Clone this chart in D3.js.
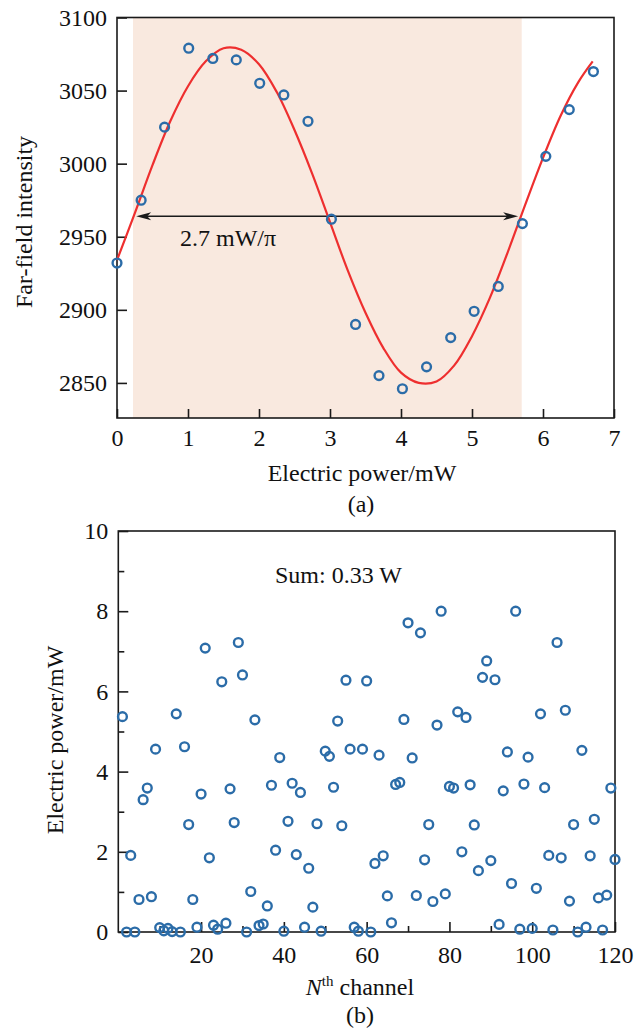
<!DOCTYPE html>
<html>
<head>
<meta charset="utf-8">
<script src="https://cdn.jsdelivr.net/npm/d3@7"></script>
<style>
  body { margin: 0; background: #fff; }
  text { font-family: "Liberation Serif", "Times New Roman", serif; fill: #111; }
</style>
</head>
<body>
<svg id="fig" width="641" height="1036"></svg>
<script>
// ---- panel (a): far-field intensity vs electric power
const powerA = [0, 0.34, 0.67, 1.01, 1.35, 1.68, 2.01, 2.35, 2.69, 3.02, 3.36,
  3.69, 4.02, 4.36, 4.70, 5.03, 5.37, 5.71, 6.04, 6.37, 6.71];
const intensityA = [2932, 2975, 3025, 3079, 3072, 3071, 3055, 3047, 3029, 2962, 2890,
  2855, 2846, 2861, 2881, 2899, 2916, 2959, 3005, 3037, 3063];

// red fit line
const fitPower = [0, 0.25, 0.5, 0.75, 1.0, 1.25, 1.5, 1.75, 2.0, 2.25, 2.5, 2.75, 3.0,
  3.25, 3.5, 3.75, 4.0, 4.25, 4.5, 4.75, 5.0, 5.25, 5.5, 5.75, 6.0, 6.25, 6.5, 6.7];
const fitIntensity = [2934, 2966, 2999, 3029, 3053, 3070, 3079, 3078, 3068, 3049, 3023, 2993, 2960,
  2927, 2898, 2874, 2857, 2850, 2851, 2862, 2882, 2908, 2939, 2972, 3004, 3033, 3056, 3070];

const phaseSpan = [0.225, 5.70];     // shaded band (mW)
const arrowSpan = [0.27, 5.65];      // double arrow ends (mW)
const arrowLevel = 2964;

const xTicksA = [0, 1, 2, 3, 4, 5, 6, 7];
const yTicksA = [2850, 2900, 2950, 3000, 3050, 3100];

// ---- panel (b): electric power per channel
const channelPower = [
  5.37, 0, 1.91, 0, 0.81, 3.30, 3.59, 0.88, 4.56, 0.11,
  0.03, 0.09, 0.01, 5.44, 0, 4.62, 2.68, 0.81, 0.12, 3.44,
  7.08, 1.85, 0.17, 0.07, 6.24, 0.22, 3.57, 2.73, 7.22, 6.41,
  0, 1.01, 5.29, 0.16, 0.20, 0.65, 3.66, 2.04, 4.35, 0.02,
  2.76, 3.71, 1.93, 3.48, 0.12, 1.59, 0.62, 2.70, 0.02, 4.51,
  4.38, 3.61, 5.26, 2.65, 6.28, 4.56, 0.12, 0.02, 4.56, 6.26,
  0, 1.71, 4.41, 1.90, 0.90, 0.23, 3.68, 3.73, 5.30, 7.71,
  4.34, 0.91, 7.46, 1.80, 2.68, 0.76, 5.16, 8.00, 0.95, 3.63,
  3.59, 5.49, 2.00, 5.35, 3.67, 2.67, 1.53, 6.35, 6.76, 1.78,
  6.29, 0.19, 3.52, 4.49, 1.21, 8.00, 0.07, 3.69, 4.36, 0.09,
  1.09, 5.44, 3.60, 1.91, 0.05, 7.22, 1.85, 5.53, 0.77, 2.68,
  0, 4.53, 0.12, 1.90, 2.81, 0.85, 0.05, 0.92, 3.59, 1.81];
const channels = d3.range(1, channelPower.length + 1);

const xTicksB = [20, 40, 60, 80, 100, 120];
const xMinorB = [10, 30, 50, 70, 90, 110];
const yTicksB = [0, 2, 4, 6, 8, 10];
const yMinorB = [1, 3, 5, 7, 9];

const blue = "#2b6ca8";
const red = "#ee2f2f";
const ink = "#1a1a1a";
const fs = 24;

const svg = d3.select("#fig");

function styleAxis(g) {
  g.attr("font-family", null).attr("font-size", fs);
  g.select(".domain").remove();
  g.selectAll(".tick line").attr("stroke", ink).attr("stroke-width", 1.6);
  g.selectAll(".tick text").attr("fill", ink);
}

// ================= panel (a)
const xa = d3.scaleLinear().domain([0, 7]).range([117, 614]);
const ya = d3.scaleLinear().domain([2826, 3100]).range([418, 17.5]);

svg.append("rect")
  .attr("x", xa(phaseSpan[0]))
  .attr("y", ya(3100))
  .attr("width", xa(phaseSpan[1]) - xa(phaseSpan[0]))
  .attr("height", ya(2826) - ya(3100))
  .attr("fill", "#f9e9df");

svg.append("g")
  .attr("transform", "translate(0,418)")
  .call(d3.axisBottom(xa).tickValues(xTicksA).tickSize(-9).tickPadding(11).tickFormat(d3.format("d")))
  .call(styleAxis);

svg.append("g")
  .attr("transform", "translate(117,0)")
  .call(d3.axisLeft(ya).tickValues(yTicksA).tickSize(-10).tickPadding(10).tickFormat(d3.format("d")))
  .call(styleAxis);

svg.append("rect")
  .attr("x", xa(0)).attr("y", ya(3100))
  .attr("width", xa(7) - xa(0)).attr("height", ya(2826) - ya(3100))
  .attr("fill", "none").attr("stroke", ink).attr("stroke-width", 1.6);

// double arrow
const ay = ya(arrowLevel);
const ax0 = xa(arrowSpan[0]), ax1 = xa(arrowSpan[1]);
svg.append("line")
  .attr("x1", ax0 + 8).attr("x2", ax1 - 8)
  .attr("y1", ay).attr("y2", ay)
  .attr("stroke", ink).attr("stroke-width", 1.5);
svg.append("path")
  .attr("d", `M${ax0},${ay} L${ax0 + 15},${ay - 4} L${ax0 + 11},${ay} L${ax0 + 15},${ay + 4} Z`)
  .attr("fill", ink);
svg.append("path")
  .attr("d", `M${ax1},${ay} L${ax1 - 15},${ay - 4} L${ax1 - 11},${ay} L${ax1 - 15},${ay + 4} Z`)
  .attr("fill", ink);

svg.append("text")
  .attr("x", 180).attr("y", 246)
  .attr("font-size", fs)
  .text("2.7 mW/\u03c0");

const fitLine = d3.line()
  .x((d, i) => xa(fitPower[i]))
  .y(d => ya(d))
  .curve(d3.curveCatmullRom);

svg.append("path")
  .datum(fitIntensity)
  .attr("d", fitLine)
  .attr("fill", "none")
  .attr("stroke", red)
  .attr("stroke-width", 2.2);

svg.append("g").selectAll("circle")
  .data(intensityA)
  .enter()
  .append("circle")
  .attr("cx", (d, i) => xa(powerA[i]))
  .attr("cy", d => ya(d))
  .attr("r", 4.4)
  .attr("fill", "none")
  .attr("stroke", blue)
  .attr("stroke-width", 2.4);

svg.append("text")
  .attr("transform", "translate(32,222) rotate(-90)")
  .attr("text-anchor", "middle")
  .attr("font-size", fs)
  .text("Far-field intensity");

svg.append("text")
  .attr("x", 362).attr("y", 481)
  .attr("text-anchor", "middle")
  .attr("font-size", fs)
  .text("Electric power/mW");

svg.append("text")
  .attr("x", 361).attr("y", 512)
  .attr("text-anchor", "middle")
  .attr("font-size", fs)
  .text("(a)");

// ================= panel (b)
const xb = d3.scaleLinear().domain([0, 120]).range([118.3, 615]);
const yb = d3.scaleLinear().domain([0, 10]).range([932, 531]);

svg.append("g")
  .attr("transform", "translate(0,932)")
  .call(d3.axisBottom(xb).tickValues(xTicksB).tickSize(-10).tickPadding(14).tickFormat(d3.format("d")))
  .call(styleAxis);

svg.append("g")
  .attr("transform", "translate(0,932)")
  .call(d3.axisBottom(xb).tickValues(xMinorB).tickSize(-6).tickFormat(""))
  .call(styleAxis);

svg.append("g")
  .attr("transform", "translate(118.3,0)")
  .call(d3.axisLeft(yb).tickValues(yTicksB).tickSize(-10).tickPadding(10).tickFormat(d3.format("d")))
  .call(styleAxis);

svg.append("g")
  .attr("transform", "translate(118.3,0)")
  .call(d3.axisLeft(yb).tickValues(yMinorB).tickSize(-6).tickFormat(""))
  .call(styleAxis);

svg.append("rect")
  .attr("x", xb(0)).attr("y", yb(10))
  .attr("width", xb(120) - xb(0)).attr("height", yb(0) - yb(10))
  .attr("fill", "none").attr("stroke", ink).attr("stroke-width", 1.6);

svg.append("g").selectAll("circle")
  .data(channelPower)
  .enter()
  .append("circle")
  .attr("cx", (d, i) => xb(channels[i]))
  .attr("cy", d => yb(d))
  .attr("r", 4.4)
  .attr("fill", "none")
  .attr("stroke", blue)
  .attr("stroke-width", 2.4);

svg.append("text")
  .attr("x", 275).attr("y", 583)
  .attr("font-size", fs)
  .text("Sum: 0.33 W");

svg.append("text")
  .attr("transform", "translate(63,740) rotate(-90)")
  .attr("text-anchor", "middle")
  .attr("font-size", fs)
  .text("Electric power/mW");

const nth = svg.append("text")
  .attr("x", 360).attr("y", 995)
  .attr("text-anchor", "middle")
  .attr("font-size", fs);
nth.append("tspan").attr("font-style", "italic").text("N");
nth.append("tspan").attr("font-size", 15).attr("dy", -9).text("th");
nth.append("tspan").attr("dy", 9).text(" channel");

svg.append("text")
  .attr("x", 360).attr("y", 1023)
  .attr("text-anchor", "middle")
  .attr("font-size", fs)
  .text("(b)");
</script>
</body>
</html>
